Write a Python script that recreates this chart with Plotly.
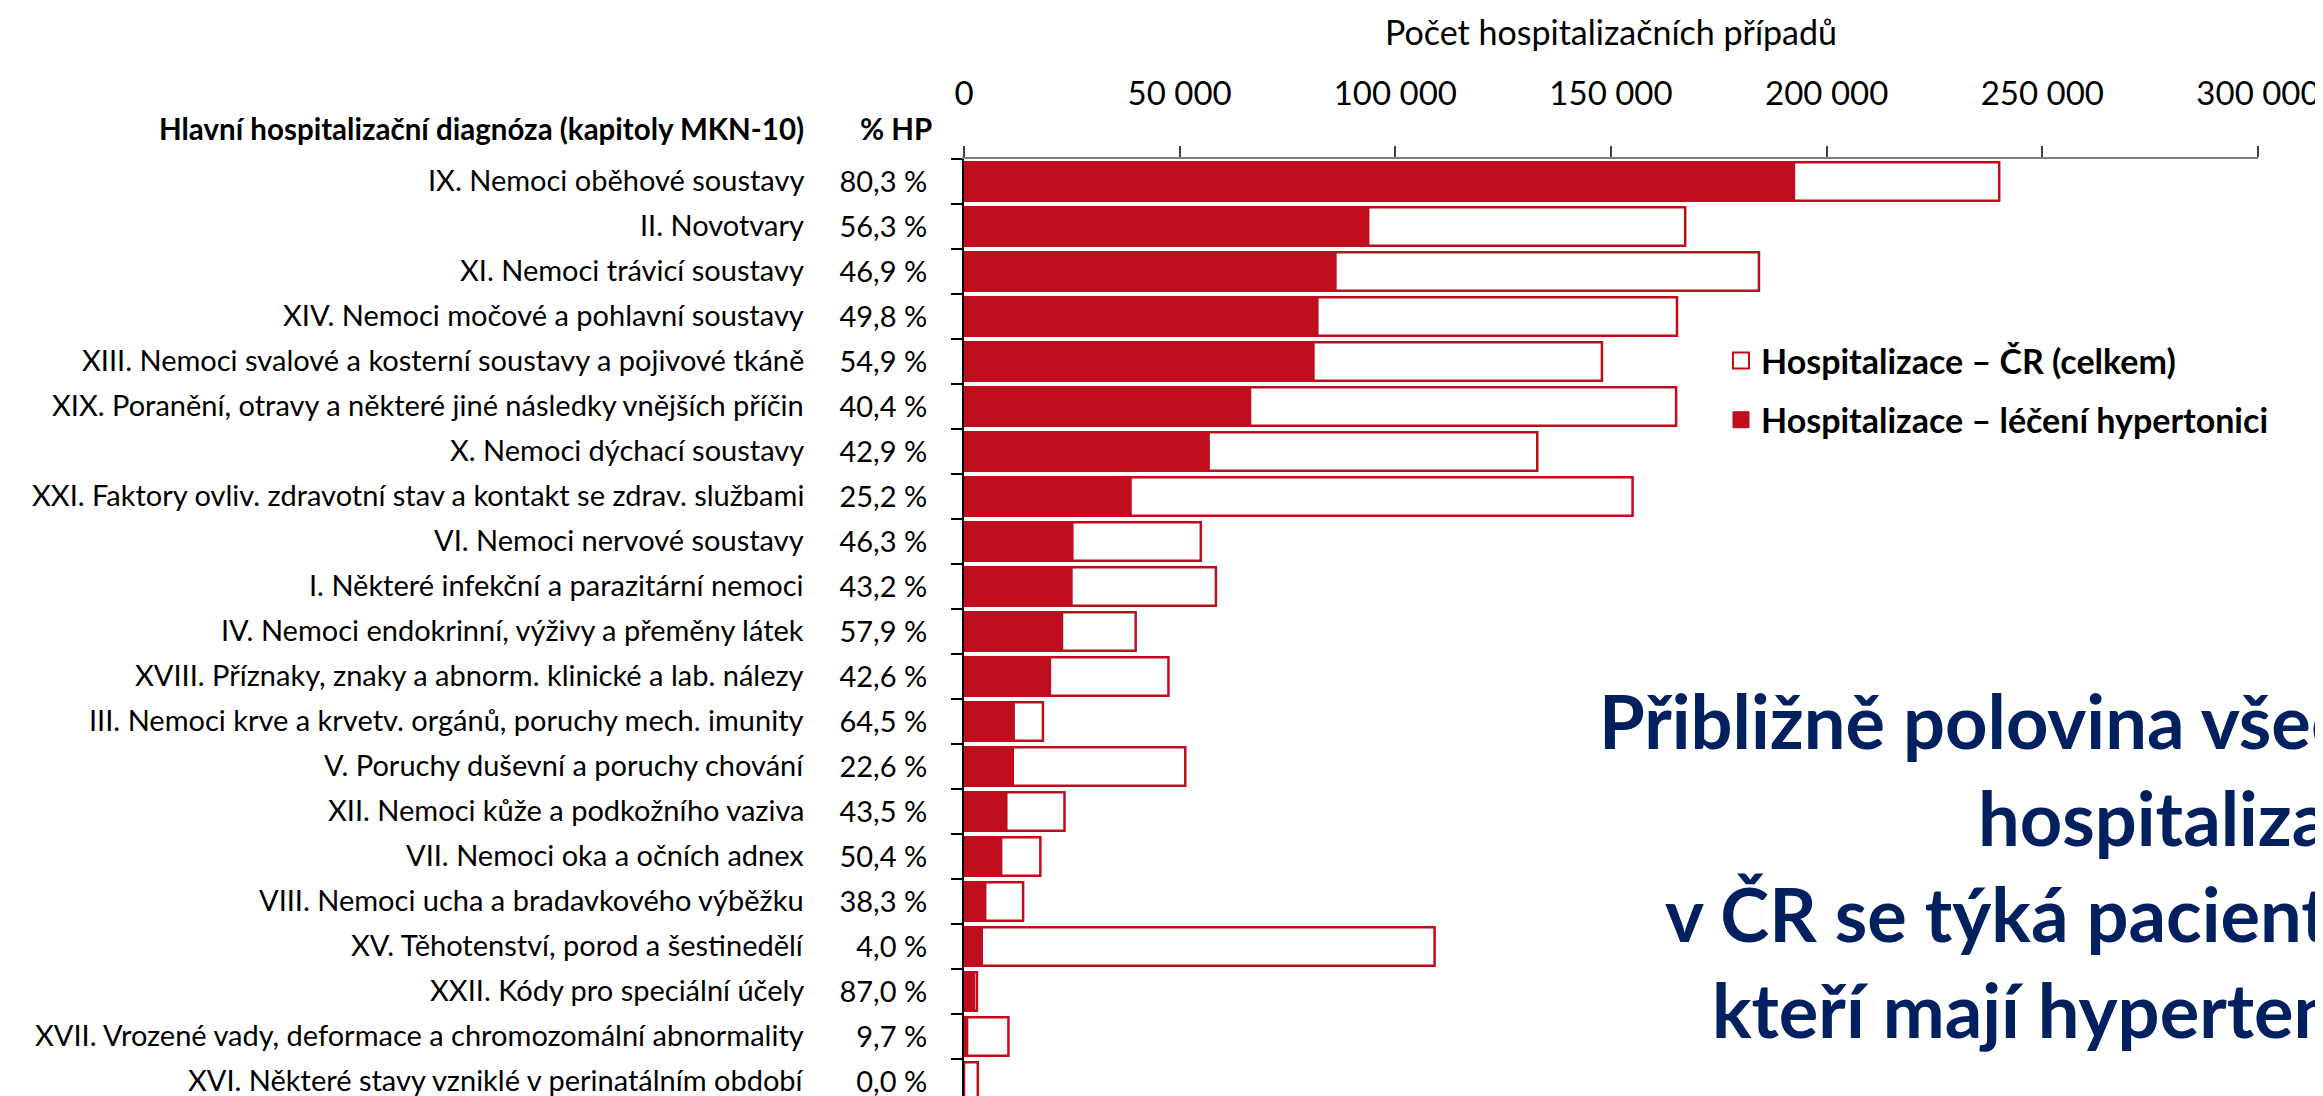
import plotly.graph_objects as go

# ── Data ──────────────────────────────────────────────────────────────────────
chapters = [
    "IX. Nemoci oběhové soustavy",
    "II. Novotvary",
    "XI. Nemoci trávicí soustavy",
    "XIV. Nemoci močové a pohlavní soustavy",
    "XIII. Nemoci svalové a kosterní soustavy a pojivové tkáně",
    "XIX. Poranění, otravy a některé jiné následky vnějších příčin",
    "X. Nemoci dýchací soustavy",
    "XXI. Faktory ovliv. zdravotní stav a kontakt se zdrav. službami",
    "VI. Nemoci nervové soustavy",
    "I. Některé infekční a parazitární nemoci",
    "IV. Nemoci endokrinní, výživy a přeměny látek",
    "XVIII. Příznaky, znaky a abnorm. klinické a lab. nálezy",
    "III. Nemoci krve a krvetv. orgánů, poruchy mech. imunity",
    "V. Poruchy duševní a poruchy chování",
    "XII. Nemoci kůže a podkožního vaziva",
    "VII. Nemoci oka a očních adnex",
    "VIII. Nemoci ucha a bradavkového výběžku",
    "XV. Těhotenství, porod a šestinedělí",
    "XXII. Kódy pro speciální účely",
    "XVII. Vrozené vady, deformace a chromozomální abnormality",
    "XVI. Některé stavy vzniklé v perinatálním období",
]
total_cr = [240000, 167200, 184300, 165300, 147900, 165100, 132900, 155000,
            54900, 58400, 39800, 47400, 18300, 51300, 23300, 17700, 13700,
            109100, 3000, 10300, 3200]
hypertonici = [192700, 94000, 86400, 82200, 81300, 66600, 57000, 38900,
               25400, 25200, 23000, 20200, 11800, 11600, 10100, 8900, 5200,
               4400, 2600, 1000, 0]
pct_hp = ["80,3 %", "56,3 %", "46,9 %", "49,8 %", "54,9 %", "40,4 %", "42,9 %",
          "25,2 %", "46,3 %", "43,2 %", "57,9 %", "42,6 %", "64,5 %", "22,6 %",
          "43,5 %", "50,4 %", "38,3 %", "4,0 %", "87,0 %", "9,7 %", "0,0 %"]
message_lines = ["Přibližně polovina všech", "hospitalizací",
                 "v ČR se týká pacientů,", "kteří mají hypertenzi"]

# ── Style ─────────────────────────────────────────────────────────────────────
RED = "#C00D1E"
NAVY = "#002060"
FONT = "Lato"
LABEL_SIZE = 29

fig = go.Figure()
fig.add_trace(go.Bar(
    y=chapters, x=total_cr, orientation="h", width=0.86, showlegend=False,
    name="Hospitalizace – ČR (celkem)", legendgroup="celkem",
    marker=dict(color="white", line=dict(color=RED, width=2.5)),
))
fig.add_trace(go.Bar(
    y=chapters, x=hypertonici, orientation="h", width=0.86, showlegend=False,
    name="Hospitalizace – léčení hypertonici", legendgroup="hyper",
    marker=dict(color=RED, line=dict(width=0)),
))

# legend entries with bigger square keys (bar keys are tiny in plotly)
fig.add_trace(go.Scatter(
    x=[None], y=[None], mode="markers", name="Hospitalizace – ČR (celkem)",
    legendgroup="celkem",
    marker=dict(symbol="square", size=16, color="white", line=dict(color=RED, width=2)),
))
fig.add_trace(go.Scatter(
    x=[None], y=[None], mode="markers", name="Hospitalizace – léčení hypertonici",
    legendgroup="hyper",
    marker=dict(symbol="square", size=16, color=RED, line=dict(color=RED, width=1)),
))

# chapter names left of the % column
for name in chapters:
    fig.add_annotation(x=-0.1221, xref="paper", y=name, yref="y", text=name,
                       showarrow=False, xanchor="right", yshift=2,
                       font=dict(family=FONT, size=LABEL_SIZE, color="black"))

# column headers
fig.add_annotation(x=-0.1221, xref="paper", y=1.032, yref="paper",
                   text="<b>Hlavní hospitalizační diagnóza (kapitoly MKN-10)</b>",
                   showarrow=False, xanchor="right", yanchor="middle",
                   font=dict(family=FONT, size=29.5, color="black"))
fig.add_annotation(x=-0.0232, xref="paper", y=1.032, yref="paper",
                   text="<b>% HP</b>", showarrow=False, xanchor="right",
                   yanchor="middle", font=dict(family=FONT, size=29.5, color="black"))

# big message, right aligned and cut off by the right edge as on the slide
for i, line in enumerate(message_lines):
    fig.add_annotation(x=1.1020, xref="paper", y=0.4053 - 0.1016 * i, yref="paper",
                       text=f"<b>{line}</b>", showarrow=False,
                       xanchor="right", yanchor="middle", align="right",
                       font=dict(family=FONT, size=74, color=NAVY))

fig.update_layout(
    width=2323, height=1096,
    margin=dict(l=956, r=73, t=151, b=0),
    paper_bgcolor="white", plot_bgcolor="white",
    barmode="overlay", separators=", ",
    font=dict(family=FONT, color="black"),
    legend=dict(x=0.585, y=0.817, xanchor="left", yanchor="top",
                traceorder="grouped", tracegroupgap=12,
                font=dict(family=FONT, size=34, color="black", weight="bold"),
                bgcolor="rgba(0,0,0,0)"),
    xaxis=dict(side="top", range=[0, 300000], dtick=50000, tickformat=",d",
               showgrid=False, zeroline=False, showline=True,
               linecolor="#7F7F7F", linewidth=2,
               ticks="outside", ticklen=11, tickwidth=1.5, tickcolor="#404040",
               ticklabelstandoff=28,
               tickfont=dict(family=FONT, size=33, color="black"),
               title=dict(text="Počet hospitalizačních případů", standoff=16,
                          font=dict(family=FONT, size=34, color="black"))),
    yaxis=dict(type="category", categoryorder="array", categoryarray=chapters,
               range=[20.5, -0.5], tickvals=chapters, ticktext=pct_hp,
               showgrid=False, zeroline=False, showline=True,
               linecolor="black", linewidth=2,
               ticks="outside", tickson="boundaries", ticklen=11,
               tickwidth=2, tickcolor="black", ticklabelstandoff=29,
               tickfont=dict(family=FONT, size=LABEL_SIZE, color="black")),
)

fig.write_html("out.html")
